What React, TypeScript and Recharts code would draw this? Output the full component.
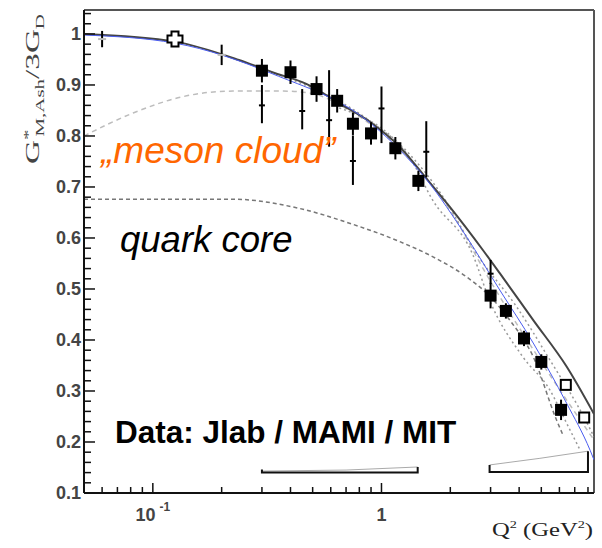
import {
  ComposedChart,
  Line,
  Scatter,
  ErrorBar,
  XAxis,
  YAxis,
  ReferenceLine,
} from "recharts";

const X_MIN = 0.05;
const X_MAX = 8.5;
const Y_MIN = 0.1;
const Y_MAX = 1.047;

// axis ticks
const yMajorTicks = [0.1, 0.2, 0.3, 0.4, 0.5, 0.6, 0.7, 0.8, 0.9, 1.0];
const yMajorLabels = ["0.1", "0.2", "0.3", "0.4", "0.5", "0.6", "0.7", "0.8", "0.9", "1"];
const yMinorTicks = [
  0.12, 0.14, 0.16, 0.18, 0.22, 0.24, 0.26, 0.28, 0.32, 0.34, 0.36, 0.38,
  0.42, 0.44, 0.46, 0.48, 0.52, 0.54, 0.56, 0.58, 0.62, 0.64, 0.66, 0.68,
  0.72, 0.74, 0.76, 0.78, 0.82, 0.84, 0.86, 0.88, 0.92, 0.94, 0.96, 0.98,
  1.02, 1.04,
];
const xMajorTicks = [0.1, 1];
const xTickBase = ["10", "1"];
const xTickExp = ["-1", ""];
const xMinorTicks = [0.06, 0.07, 0.08, 0.09, 0.2, 0.3, 0.4, 0.5, 0.6, 0.7, 0.8, 0.9, 2, 3, 4, 5, 6, 7, 8];

// model curves
const fitQ2 = [0.05, 0.125, 0.238, 0.333, 0.469, 0.654, 0.913, 1.2, 1.57, 1.99, 2.78, 3.29, 4.61, 6.45, 8.5];
const fitSolid = [1.0, 0.985, 0.949, 0.925, 0.902, 0.864, 0.824, 0.779, 0.717, 0.661, 0.576, 0.531, 0.439, 0.348, 0.255];

const blueQ2 = [0.05, 0.125, 0.333, 0.913, 1.2, 1.57, 2.35, 3.29, 4.61, 6.45, 8.17, 8.5];
const blueVals = [0.998, 0.982, 0.922, 0.822, 0.773, 0.715, 0.603, 0.498, 0.394, 0.276, 0.184, 0.165];

const coreQ2 = [0.05, 0.224, 0.437, 0.724, 1.2, 1.68, 2.35, 2.88, 3.64, 4.61, 5.83, 6.2];
const coreVals = [0.676, 0.676, 0.658, 0.629, 0.593, 0.563, 0.524, 0.492, 0.439, 0.367, 0.243, 0.215];

const cloudQ2 = [0.05, 0.082, 0.135, 0.224, 0.372, 0.488, 0.724, 1.2, 1.99, 2.97, 4.93, 8.5];
const cloudVals = [0.8, 0.845, 0.877, 0.888, 0.888, 0.884, 0.85, 0.775, 0.655, 0.518, 0.361, 0.204];

const upQ2 = [0.3, 0.913, 1.29, 1.8, 2.69, 3.9, 5.45, 7.93, 8.5];
const upVals = [0.932, 0.826, 0.77, 0.69, 0.56, 0.465, 0.361, 0.237, 0.21];

const lowQ2 = [0.654, 1.33, 1.67, 2.51, 2.97, 4.15, 5.45, 6.45, 7.39];
const lowVals = [0.855, 0.757, 0.675, 0.567, 0.478, 0.367, 0.302, 0.237, 0.184];

// systematic error brackets
const bracketLeftQ2 = [0.3, 0.3, 1.44, 1.44];
const bracketLeftVals = [0.146, 0.14, 0.14, 0.151];
const sysLeftQ2 = [0.3, 0.7, 1.44];
const sysLeftVals = [0.143, 0.145, 0.151];
const bracketRightQ2 = [2.97, 2.97, 8.0, 8.0];
const bracketRightVals = [0.155, 0.141, 0.141, 0.182];
const sysRightQ2 = [2.97, 4.93, 8.0];
const sysRightVals = [0.155, 0.168, 0.182];

// data points
const sqQ2 = [0.3, 0.4, 0.52, 0.64, 0.75, 0.9, 1.15, 1.45, 3.0, 3.5, 4.2, 5.0, 6.1];
const sqG = [0.928, 0.925, 0.892, 0.869, 0.824, 0.805, 0.776, 0.712, 0.487, 0.457, 0.403, 0.357, 0.263];
const sqErr = [0.023, 0.023, 0.025, 0.023, 0.022, 0.022, 0.022, 0.02, 0.025, 0.015, 0.015, 0.015, 0.02];

const smQ2 = [0.3, 0.45, 0.59, 0.75, 1.0, 1.57, 3.0];
const smG = [0.86, 0.849, 0.831, 0.751, 0.854, 0.769, 0.53];
const smErrLo = [0.035, 0.036, 0.052, 0.047, 0.068, 0.05, 0.02];
const smErrHi = [0.04, 0.043, 0.098, 0.05, 0.043, 0.06, 0.027];

const grayQ2 = [0.06, 0.2];
const grayG = [0.99, 0.959];
const grayErr = [0.016, 0.02];

const crossQ2 = [0.125];
const crossG = [0.99];

const openQ2 = [6.4, 7.7];
const openG = [0.312, 0.248];

const pts = (xs: number[], ys: number[]) => xs.map((x, i) => ({ x, y: ys[i] }));

const squares = sqQ2.map((x, i) => ({ x, y: sqG[i], err: sqErr[i] }));
const smalls = smQ2.map((x, i) => ({ x, y: smG[i], err: [smErrLo[i], smErrHi[i]] }));
const grays = grayQ2.map((x, i) => ({ x, y: grayG[i], err: grayErr[i] }));

const YTick = (props: any) => {
  const { x, y, payload } = props;
  const i = yMajorTicks.indexOf(payload.value);
  const major = i >= 0;
  return (
    <g>
      <line x1={x} x2={x + (major ? 11 : 7)} y1={y} y2={y} stroke="#111" strokeWidth={1.5} />
      {major && (
        <text x={x - 3} y={y} dy="0.36em" textAnchor="end" fontFamily="Liberation Sans, Arial" fontWeight="bold" fontSize={18} fill="#444">
          {yMajorLabels[i]}
        </text>
      )}
    </g>
  );
};

const XTick = (props: any) => {
  const { x, y, payload } = props;
  const i = xMajorTicks.indexOf(payload.value);
  const major = i >= 0;
  return (
    <g>
      <line x1={x} x2={x} y1={y} y2={y - (major ? 10 : 6)} stroke="#111" strokeWidth={1.5} />
      {major && (
        <text x={x} y={y + 28} textAnchor="middle" fontFamily="Liberation Sans, Arial" fontWeight="bold" fontSize={18} fill="#444">
          {xTickBase[i]}
          {xTickExp[i] && (
            <tspan dx={4} dy={-10} fontSize={12}>
              {xTickExp[i]}
            </tspan>
          )}
        </text>
      )}
    </g>
  );
};

const Square = (p: any) => <rect x={p.cx - 6} y={p.cy - 6} width={12} height={12} fill="#000" />;
const SmallMark = (p: any) => (
  <line x1={p.cx - 3} x2={p.cx + 3} y1={p.cy} y2={p.cy} stroke="#000" strokeWidth={2} />
);
const GrayMark = (p: any) => (
  <line x1={p.cx - 4} x2={p.cx + 4} y1={p.cy} y2={p.cy} stroke="#bbb" strokeWidth={2} />
);
const OpenCross = (p: any) => {
  const a = 3.5;
  const b = 7.5;
  const { cx, cy } = p;
  const d = `M${cx - a},${cy - b} H${cx + a} V${cy - a} H${cx + b} V${cy + a} H${cx + a} V${cy + b} H${cx - a} V${cy + a} H${cx - b} V${cy - a} H${cx - a} Z`;
  return <path d={d} fill="#fff" stroke="#000" strokeWidth={2} />;
};
const OpenSquare = (p: any) => (
  <rect x={p.cx - 5} y={p.cy - 5} width={10} height={10} fill="#fff" stroke="#000" strokeWidth={2} />
);

export default function App() {
  return (
    <div style={{ position: "absolute", left: 0, top: 0, width: 602, height: 548, background: "#fff" }}>
      <ComposedChart width={602} height={548} margin={{ top: 10, right: 8, left: 0, bottom: 0 }}>
        <XAxis
          dataKey="x"
          type="number"
          scale="log"
          domain={[X_MIN, X_MAX]}
          allowDataOverflow
          ticks={[...xMajorTicks, ...xMinorTicks]}
          interval={0}
          tick={XTick}
          tickLine={false}
          tickSize={0}
          tickMargin={0}
          height={55}
          axisLine={{ stroke: "#111", strokeWidth: 2 }}
        />
        <YAxis
          dataKey="y"
          type="number"
          domain={[Y_MIN, Y_MAX]}
          allowDataOverflow
          ticks={[...yMajorTicks, ...yMinorTicks]}
          interval={0}
          tick={YTick}
          tickLine={false}
          tickSize={0}
          tickMargin={0}
          width={84}
          axisLine={{ stroke: "#111", strokeWidth: 2 }}
        />
        <ReferenceLine y={Y_MAX} stroke="#555" strokeWidth={2} />
        <ReferenceLine x={X_MAX} stroke="#555" strokeWidth={2} />

        <Line data={pts(cloudQ2, cloudVals)} dataKey="y" type="monotone" stroke="#bdbdbd" strokeWidth={1.5} strokeDasharray="5 4" dot={false} isAnimationActive={false} />
        <Line data={pts(coreQ2, coreVals)} dataKey="y" type="monotone" stroke="#777" strokeWidth={1.5} strokeDasharray="4 3" dot={false} isAnimationActive={false} />
        <Line data={pts(lowQ2, lowVals)} dataKey="y" type="monotone" stroke="#999" strokeWidth={1.5} strokeDasharray="2 3" dot={false} isAnimationActive={false} />
        <Line data={pts(upQ2, upVals)} dataKey="y" type="monotone" stroke="#999" strokeWidth={1.5} strokeDasharray="2 3" dot={false} isAnimationActive={false} />
        <Line data={pts(fitQ2, fitSolid)} dataKey="y" type="monotone" stroke="#444" strokeWidth={2} dot={false} isAnimationActive={false} />
        <Line data={pts(blueQ2, blueVals)} dataKey="y" type="monotone" stroke="#4a5cf0" strokeWidth={1} dot={false} isAnimationActive={false} />

        <Line data={pts(sysLeftQ2, sysLeftVals)} dataKey="y" type="linear" stroke="#aaa" strokeWidth={1} dot={false} isAnimationActive={false} />
        <Line data={pts(sysRightQ2, sysRightVals)} dataKey="y" type="linear" stroke="#aaa" strokeWidth={1} dot={false} isAnimationActive={false} />
        <Line data={pts(bracketLeftQ2, bracketLeftVals)} dataKey="y" type="linear" stroke="#111" strokeWidth={2} dot={false} isAnimationActive={false} />
        <Line data={pts(bracketRightQ2, bracketRightVals)} dataKey="y" type="linear" stroke="#111" strokeWidth={2} dot={false} isAnimationActive={false} />

        <Scatter data={grays} dataKey="y" shape={GrayMark} isAnimationActive={false}>
          <ErrorBar dataKey="err" direction="y" width={0} stroke="#000" strokeWidth={2} isAnimationActive={false} />
        </Scatter>
        <Scatter data={smalls} dataKey="y" shape={SmallMark} isAnimationActive={false}>
          <ErrorBar dataKey="err" direction="y" width={0} stroke="#000" strokeWidth={2} isAnimationActive={false} />
        </Scatter>
        <Scatter data={squares} dataKey="y" shape={Square} isAnimationActive={false}>
          <ErrorBar dataKey="err" direction="y" width={0} stroke="#000" strokeWidth={2} isAnimationActive={false} />
        </Scatter>
        <Scatter data={pts(crossQ2, crossG)} dataKey="y" shape={OpenCross} isAnimationActive={false} />
        <Scatter data={pts(openQ2, openG)} dataKey="y" shape={OpenSquare} isAnimationActive={false} />
      </ComposedChart>

      <svg width={602} height={548} style={{ position: "absolute", left: 0, top: 0, pointerEvents: "none" }}>
        <text x={101} y={163} fontFamily="Liberation Sans, Arial" fontStyle="italic" fontSize={37} fill="#ff6600">
          „meson cloud”
        </text>
        <text x={120} y={252} fontFamily="Liberation Sans, Arial" fontStyle="italic" fontSize={36.5} fill="#000">
          quark core
        </text>
        <text x={115} y={443} fontFamily="Liberation Sans, Arial" fontWeight="bold" fontSize={31.5} fill="#000">
          Data: Jlab / MAMI / MIT
        </text>
        <text
          transform="translate(39,164) rotate(-90)"
          fontFamily="Liberation Serif, Times New Roman"
          fontSize={19}
          fill="#444"
          textLength={150}
          lengthAdjust="spacingAndGlyphs"
        >
          G<tspan dy={-7} fontSize={12}>*</tspan>
          <tspan dx={-4} dy={12} fontSize={12}>M,Ash</tspan>
          <tspan dy={-5}>/3G</tspan>
          <tspan dy={5} fontSize={12}>D</tspan>
        </text>
        <text
          x={492}
          y={536}
          fontFamily="Liberation Serif, Times New Roman"
          fontSize={19}
          fill="#222"
          textLength={101}
          lengthAdjust="spacingAndGlyphs"
        >
          Q<tspan dy={-8} fontSize={11}>2</tspan>
          <tspan dy={8}> (GeV</tspan>
          <tspan dy={-8} fontSize={11}>2</tspan>
          <tspan dy={8}>)</tspan>
        </text>
      </svg>
    </div>
  );
}
